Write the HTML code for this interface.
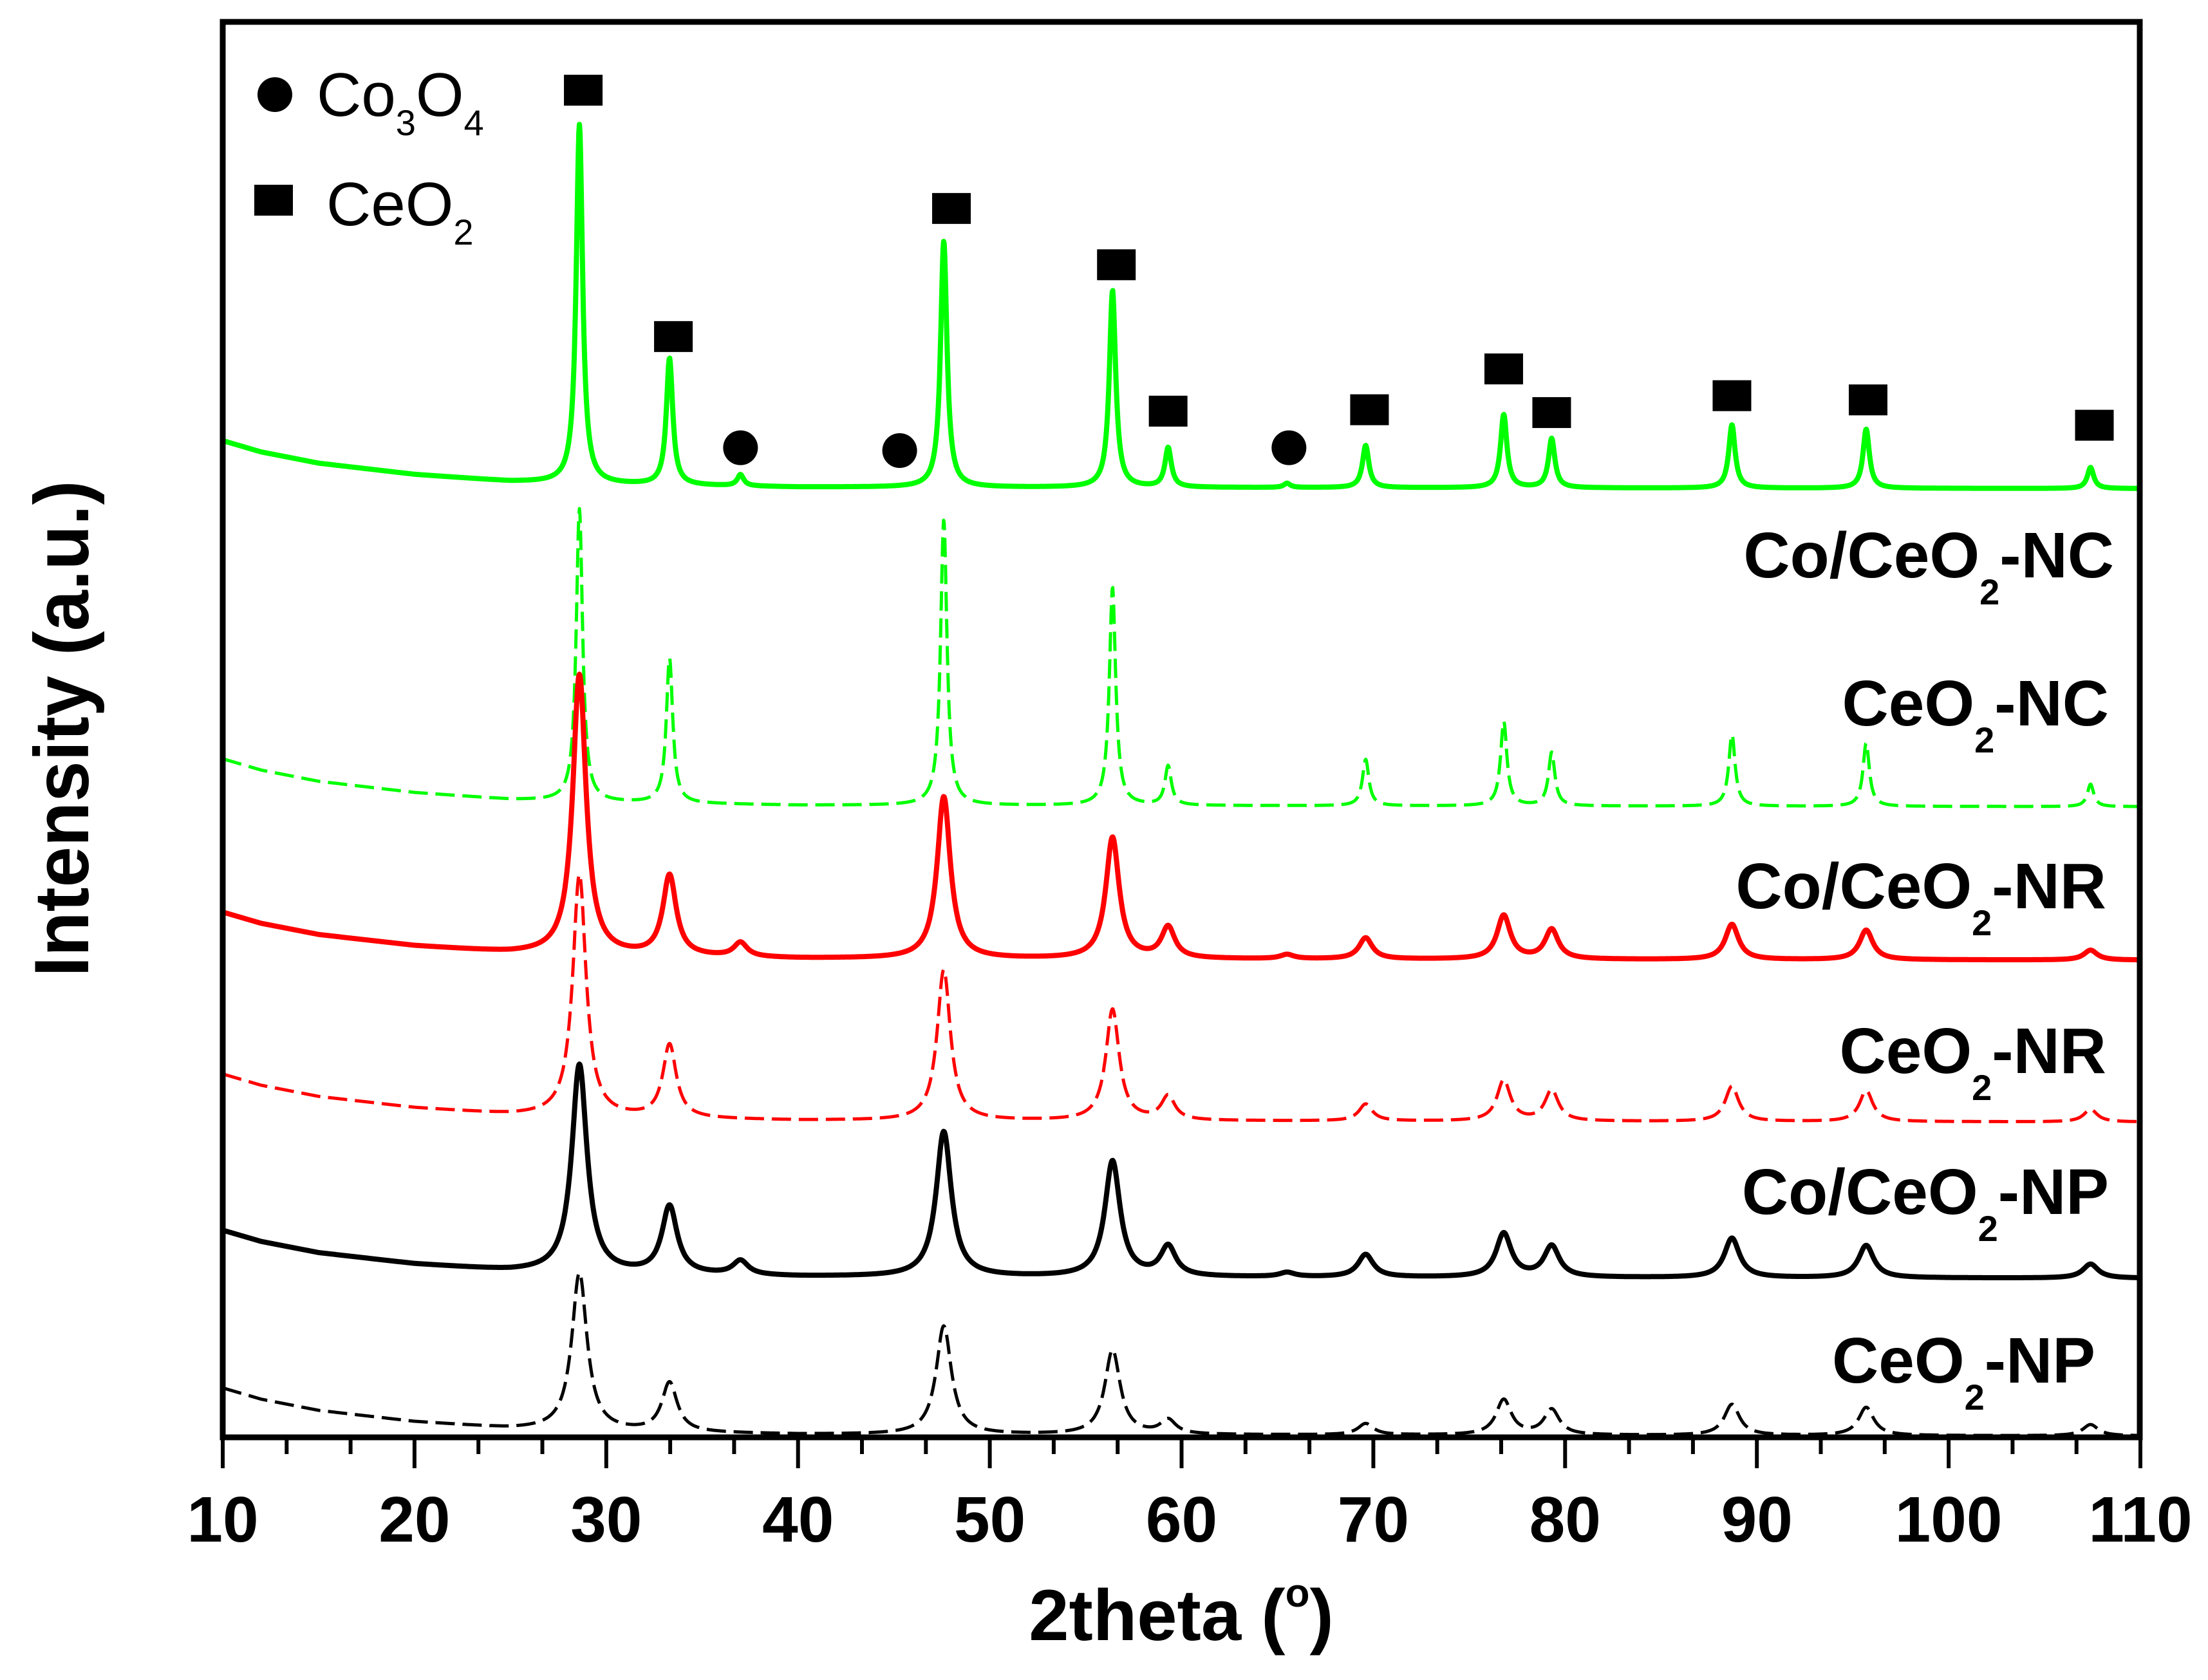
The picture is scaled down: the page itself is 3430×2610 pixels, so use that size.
<!DOCTYPE html>
<html><head><meta charset="utf-8"><style>
html,body{margin:0;padding:0;background:#fff;}
svg{display:block;}
text{font-family:"Liberation Sans",Arial,sans-serif;}
</style></head><body>
<svg id="chart" width="3430" height="2610" viewBox="0 0 3430 2610" xmlns="http://www.w3.org/2000/svg">
<g id="series"></g>
<g id="markers"></g>
<rect x="346" y="34" width="2978" height="2199" fill="none" stroke="#000" stroke-width="9"/>
<g id="ticks"></g>
<text x="1835" y="2548" font-size="112" font-weight="bold" text-anchor="middle">2theta (<tspan font-size="62" dy="-52">o</tspan><tspan dy="52">)</tspan></text>
<text transform="translate(137,1132) rotate(-90)" font-size="120" font-weight="bold" text-anchor="middle" textLength="771" lengthAdjust="spacingAndGlyphs">Intensity (a.u.)</text>
<g>
<circle cx="427" cy="147" r="27" fill="#000"/>
<text x="492" y="180" font-size="96">Co<tspan font-size="56" dy="30">3</tspan><tspan dy="-30">O</tspan><tspan font-size="56" dy="30">4</tspan></text>
<rect x="395" y="287" width="60" height="48" fill="#000"/>
<text x="507" y="350" font-size="96">CeO<tspan font-size="56" dy="30">2</tspan></text>
</g>
<g id="labels"></g>
</svg>
<script>
const X0=346,X1=3325,Y0=2233,Y1=33;
const xMin=10,xMax=110,yMin=0,yMax=1006;
function sx(v){return X0+(v-xMin)/(xMax-xMin)*(X1-X0);}
function sy(v){return Y0-(v-yMin)/(yMax-yMin)*(Y0-Y1);}
const xTicks=[10,20,30,40,50,60,70,80,90,100,110];
const xTickLabels=["10","20","30","40","50","60","70","80","90","100","110"];
const seriesNames=["Co/CeO2-NC","CeO2-NC","Co/CeO2-NR","CeO2-NR","Co/CeO2-NP","CeO2-NP"];
const seriesColors=["#00ff00","#00ff00","#ff0000","#ff0000","#000000","#000000"];
const seriesDashed=[false,true,false,true,false,true];
const seriesBaseline=[674,448,339,224,113,1];
const seriesWidth=[0.2,0.2,0.42,0.42,0.48,0.48];
const bgX=[10,12,15,20,25,30,40,110];
const bgY=[34,26,18,10,5,3,1,0];
const peakPos=[28.6,33.3,37.0,47.6,56.4,59.3,65.5,69.6,76.8,79.3,88.7,95.7,107.4];
const peaksNC_Co=[255,90,8,175,140,28,3,30,52,35,45,42,15];
const peaksNC=[208,103,0,203,155,28,0,33,60,38,51,45,16];
const peaksNR_Co=[199,57,10,115,86,22,3,15,31,21,25,21,7];
const peaksNR=[172,52,0,107,79,17,0,12,29,22,25,22,9];
const peaksNP_Co=[148,48,10,103,82,21,3,16,31,22,28,23,10];
const peaksNP=[112,35,0,77,60,10,0,8,25,18,22,20,8];
const seriesPeaks=[peaksNC_Co,peaksNC,peaksNR_Co,peaksNR,peaksNP_Co,peaksNP];
const labelY=[897,1127,1411,1667,1886,2148];
const labelRight=[3284,3276,3272,3272,3276,3255];
const squareX=[28.8,33.5,48.0,56.6,59.3,69.8,76.8,79.3,88.7,95.8,107.6];
const squareY=[957,782,873,833,729,730,759,728,740,737,719];
const circleX=[37.0,45.3,65.6];
const circleY=[703,701,703];
const NS="http://www.w3.org/2000/svg";
function bg(x){for(let i=0;i<bgX.length-1;i++){if(x<=bgX[i+1]){const t=(x-bgX[i])/(bgX[i+1]-bgX[i]);return bgY[i]+t*(bgY[i+1]-bgY[i]);}}return 0;}
const sg=document.getElementById('series');
for(let s=0;s<seriesNames.length;s++){
  let d="";const w=seriesWidth[s];const pk=seriesPeaks[s];
  for(let x=xMin;x<=xMax+1e-9;x+=0.03){
    let v=seriesBaseline[s]+bg(x);
    for(let k=0;k<peakPos.length;k++){const dx=(x-peakPos[k])/w;v+=pk[k]/(1+dx*dx);}
    d+=(d?"L":"M")+sx(x).toFixed(1)+","+sy(v).toFixed(1);
  }
  const p=document.createElementNS(NS,'path');
  p.setAttribute('d',d);p.setAttribute('fill','none');
  p.setAttribute('stroke',seriesColors[s]);
  p.setAttribute('stroke-width',seriesDashed[s]?5:8);
  p.setAttribute('stroke-linejoin','round');
  if(seriesDashed[s])p.setAttribute('stroke-dasharray','30,12');
  
  
  sg.appendChild(p);
  const t=document.createElementNS(NS,'text');
  t.setAttribute('x',labelRight[s]);t.setAttribute('y',labelY[s]);
  t.setAttribute('text-anchor','end');t.setAttribute('font-size','100');t.setAttribute('font-weight','bold');
  const parts=seriesNames[s].split('2');
  t.innerHTML=parts[0]+'<tspan font-size="56" dy="42">2</tspan><tspan dy="-42">'+parts[1]+'</tspan>';
  
  
  document.getElementById('labels').appendChild(t);
}
const mg=document.getElementById('markers');
for(let i=0;i<squareX.length;i++){
  const r=document.createElementNS(NS,'rect');
  r.setAttribute('x',sx(squareX[i])-30);r.setAttribute('y',sy(squareY[i])-24);
  r.setAttribute('width',60);r.setAttribute('height',48);r.setAttribute('fill','#000');
  
  
  mg.appendChild(r);
}
for(let i=0;i<circleX.length;i++){
  const c=document.createElementNS(NS,'circle');
  c.setAttribute('cx',sx(circleX[i]));c.setAttribute('cy',sy(circleY[i]));c.setAttribute('r',27);c.setAttribute('fill','#000');
  
  
  mg.appendChild(c);
}
const tg=document.getElementById('ticks');
for(let v=10;v<=110+1e-9;v+=10/3){
  const major=Math.abs(v-Math.round(v/10)*10)<0.01;
  const l=document.createElementNS(NS,'line');
  l.setAttribute('x1',sx(v));l.setAttribute('x2',sx(v));
  l.setAttribute('y1',Y0);l.setAttribute('y2',Y0+(major?48:26));
  l.setAttribute('stroke','#000');l.setAttribute('stroke-width',6);
  
  
  tg.appendChild(l);
}
for(let i=0;i<xTicks.length;i++){
  const t=document.createElementNS(NS,'text');
  t.setAttribute('x',sx(xTicks[i]));t.setAttribute('y',2395);
  t.setAttribute('text-anchor','middle');t.setAttribute('font-size','100');t.setAttribute('font-weight','bold');
  t.textContent=xTickLabels[i];
  
  
  tg.appendChild(t);
}
</script>
</body></html>
